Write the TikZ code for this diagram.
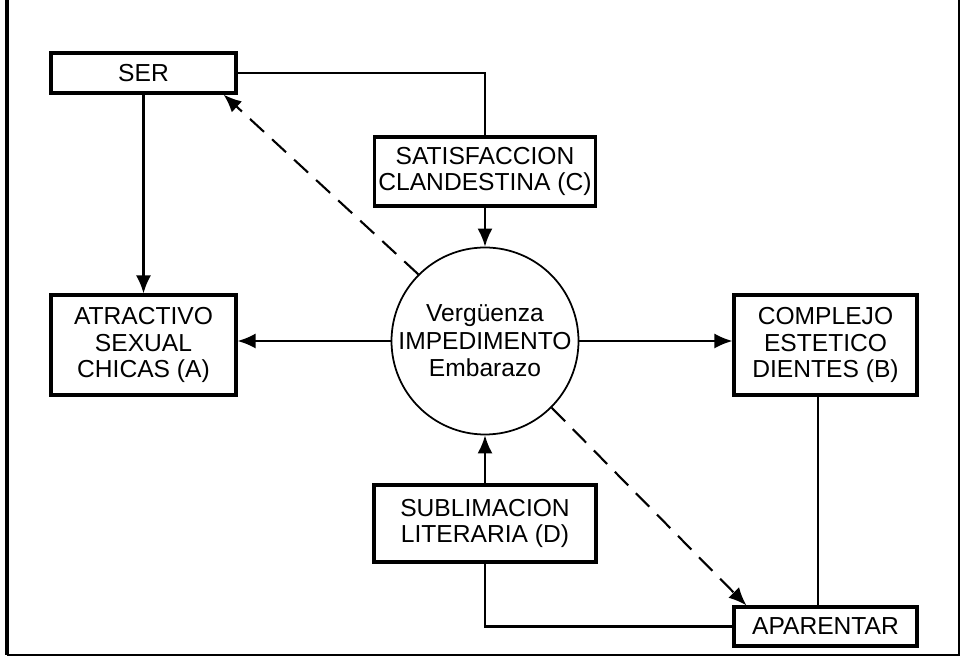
\documentclass[tikz,border=0pt]{standalone}
\usepackage{fontspec}
\setmainfont{Liberation Sans}
\usetikzlibrary{arrows.meta}

\begin{document}
\begin{tikzpicture}[x=0.02cm, y=-0.02cm,
	caja/.style={draw, line width=1.8pt, align=center, inner sep=0pt, font=\fontsize{14}{15}\selectfont},
	linea/.style={line width=1.2pt},
	flecha/.style={line width=1.2pt, -{Latex[length=0.36cm, width=0.3cm]}},
	guion/.style={flecha, dash pattern=on 0.38cm off 0.22cm}]
	\useasboundingbox (0,0) rectangle (961,658);
	% marco
	\draw[line width=2.8pt] (7,0) -- (7,655);
	\draw[line width=1.1pt] (7,655) -- (959,655) -- (959,0);
	% nodos
	\node (SER) at (143.5, 73)	[caja, minimum width=3.7cm, minimum height=0.8cm]	{SER};
	\node (SAT) at (485, 171.5)	[caja, minimum width=4.42cm, minimum height=1.38cm]	{SATISFACCION\\CLANDESTINA (C)};
	\node (V) at (485, 341)	[circle, draw, line width=1pt, minimum size=3.68cm, align=center, inner sep=0pt, font=\fontsize{14}{15.6}\selectfont]	{Vergüenza\\IMPEDIMENTO\\Embarazo};
	\node (A) at (143.5, 345)	[caja, minimum width=3.7cm, minimum height=2cm]	{ATRACTIVO\\SEXUAL\\CHICAS (A)};
	\node (B) at (825.5, 345)	[caja, minimum width=3.66cm, minimum height=2cm]	{COMPLEJO\\ESTETICO\\DIENTES (B)};
	\node (D) at (485, 523.5)	[caja, minimum width=4.44cm, minimum height=1.54cm]	{SUBLIMACION\\LITERARIA (D)};
	\node (AP) at (825.5, 626.5)	[caja, minimum width=3.66cm, minimum height=0.78cm]	{APARENTAR};
	% conexiones
	\draw[linea] (SER.east) -| (SAT.north);
	\draw[flecha] (SAT.south) -- (V.north);
	\draw[flecha] (SER.south) -- (A.north);
	\draw[flecha] (V.west) -- (V.west -| A.east);
	\draw[flecha] (V.east) -- (V.east -| B.west);
	\draw[flecha] (D.north) -- (V.south);
	\draw[linea] (D.south) |- (AP.west);
	\draw[linea] ([xshift=-0.15cm]B.south) -- ([xshift=-0.15cm]AP.north);
	\draw[guion] (V.135) -- ([xshift=-0.28cm]SER.south east);
	\draw[guion] (V.-45) -- ([xshift=0.28cm]AP.north west);
\end{tikzpicture}
\end{document}
